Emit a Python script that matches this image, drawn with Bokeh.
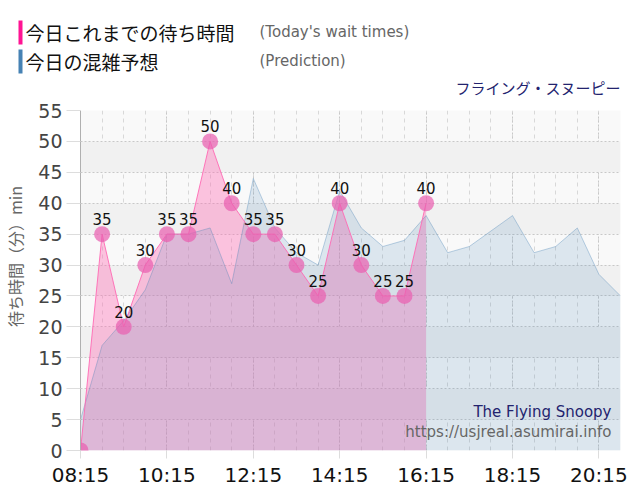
import pandas as pd
from bokeh.plotting import figure
from bokeh.layouts import column
from bokeh.models import (FixedTicker, SingleIntervalTicker, DatetimeTickFormatter,
                          Label, ColumnDataSource, Range1d)
from bokeh.embed import file_html
from bokeh.resources import INLINE
from bokeh.core.properties import value

# ---------------- data ----------------
actual_times = ["08:15", "08:45", "09:15", "09:45", "10:15", "10:45", "11:15", "11:45",
                "12:15", "12:45", "13:15", "13:45", "14:15", "14:45", "15:15", "15:45", "16:15"]
actual_waits = [0, 35, 20, 30, 35, 35, 50, 40, 35, 35, 30, 25, 40, 30, 25, 25, 40]

pred_times = ["08:15", "08:45", "09:15", "09:45", "10:15", "10:45", "11:15", "11:45",
              "12:15", "12:45", "13:15", "13:45", "14:15", "14:45", "15:15", "15:45",
              "16:15", "16:45", "17:15", "17:45", "18:15", "18:45", "19:15", "19:45",
              "20:15", "20:45"]
pred_waits = [5, 17, 21, 26, 35, 35, 36, 27, 44, 36, 32, 30, 42, 36, 33, 34,
              38, 32, 33, 35.5, 38, 32, 33, 36, 28.5, 25]

major_tick_labels = ["08:15", "10:15", "12:15", "14:15", "16:15", "18:15", "20:15"]
minor_tick_labels = pred_times
x_start, x_end = "08:15", "20:45"
y_start, y_end, y_step = 0, 55, 5

legend_actual = "今日これまでの待ち時間"
legend_actual_en = "(Today's wait times)"
legend_pred = "今日の混雑予想"
legend_pred_en = "(Prediction)"
title_text = "フライング・スヌーピー"
y_label = "待ち時間（分）min"
wm1 = "The Flying Snoopy"
wm2 = "https://usjreal.asumirai.info"


def ms(t):
    return pd.Timestamp("2024-01-01 " + t).value // 10**6


ax = [ms(t) for t in actual_times]
px = [ms(t) for t in pred_times]
src_a = ColumnDataSource(dict(x=ax, y=actual_waits,
                              lab=[str(v) if v > 0 else "" for v in actual_waits],
                              zero=[0] * len(ax)))
src_p = ColumnDataSource(dict(x=px, y=pred_waits, zero=[0] * len(px)))

W = 640
HEAD_H = 100
MAIN_H = 400
LEFT, RIGHT, TOP, BOTTOM = 80, 20, 10, 50
FRAME_BOTTOM = HEAD_H + MAIN_H - BOTTOM   # canvas y of the frame bottom (450)

# ---------------- header (legend + title) ----------------
head = figure(width=W, height=HEAD_H, output_backend="svg", toolbar_location=None,
              x_range=Range1d(0, W), y_range=Range1d(HEAD_H, 0),
              x_axis_location=None, y_axis_location=None,
              min_border=0, min_border_left=0, min_border_right=0,
              min_border_top=0, min_border_bottom=0)
head.frame_align = False
head.outline_line_color = None
head.grid.visible = False
head.background_fill_color = "white"
head.border_fill_color = "white"

head.quad(left=[18, 18], right=[22, 22], top=[20, 49], bottom=[44, 73],
          fill_color=["#ff1493", "#4682b4"], line_color=None)
head_src = ColumnDataSource(dict(
    x=[25, 25], y=[32, 61], t=[legend_actual, legend_pred]))
head.text(x="x", y="y", text="t", source=head_src, text_font=value("Noto Sans CJK JP"),
          text_font_size="19px", text_color="#111111", text_baseline="middle")
head_src2 = ColumnDataSource(dict(
    x=[259, 259], y=[31, 60], t=[legend_actual_en, legend_pred_en]))
head.text(x="x", y="y", text="t", source=head_src2, text_font=value("DejaVu Sans"),
          text_font_size="15px", text_color="#666666", text_baseline="middle")
head.text(x=[620], y=[87], text=[title_text], text_font=value("Noto Sans CJK JP"),
          text_font_size="15px", text_color="#23236e", text_align="right",
          text_baseline="middle")

# ---------------- main chart ----------------
p = figure(width=W, height=MAIN_H, x_axis_type="datetime", output_backend="svg",
           toolbar_location=None, min_border_left=LEFT, min_border_right=RIGHT,
           min_border_top=TOP, min_border_bottom=BOTTOM,
           x_range=Range1d(ms(x_start), ms(x_end)), y_range=Range1d(y_start, y_end))
p.frame_align = False
p.outline_line_color = None
p.background_fill_color = "#f9f9f9"
p.border_fill_color = "white"

LAT = value("DejaVu Sans")

p.xaxis.ticker = FixedTicker(ticks=[ms(t) for t in major_tick_labels],
                             minor_ticks=[ms(t) for t in minor_tick_labels])
fmt = "%H:%M"
p.xaxis.formatter = DatetimeTickFormatter(milliseconds=fmt, seconds=fmt, minsec=fmt,
                                          minutes=fmt, hourmin=fmt, hours=fmt, days=fmt,
                                          months=fmt, years=fmt)
p.xaxis.axis_line_color = None
p.xaxis.major_tick_line_color = "#dddddd"
p.xaxis.major_tick_out = 8
p.xaxis.major_tick_in = 0
p.xaxis.minor_tick_line_color = None
p.xaxis.major_label_text_font = "DejaVu Sans"
p.xaxis.major_label_text_font_size = "20px"
p.xaxis.major_label_text_color = "#111111"
p.xaxis.major_label_standoff = 4

p.yaxis.ticker = SingleIntervalTicker(interval=y_step, num_minor_ticks=0)
p.yaxis.axis_line_color = "#b0b0b0"
p.yaxis.major_tick_line_color = "#dddddd"
p.yaxis.major_tick_out = 14
p.yaxis.major_tick_in = 0
p.yaxis.minor_tick_line_color = None
p.yaxis.major_label_text_font = "DejaVu Sans"
p.yaxis.major_label_text_font_size = "19px"
p.yaxis.major_label_text_color = "#444444"
p.yaxis.major_label_standoff = 4
# leading ideographic spaces shift the centred label upward, as in the original
p.yaxis.axis_label = "\u3000\u3000\u3000" + y_label
p.yaxis.axis_label_text_font = "Noto Sans CJK JP"
p.yaxis.axis_label_text_font_size = "16px"
p.yaxis.axis_label_text_font_style = "normal"
p.yaxis.axis_label_text_color = "#666666"
p.yaxis.axis_label_standoff = 8

p.xgrid.grid_line_color = "#c8c8c8"
p.xgrid.grid_line_dash = "2 2"
p.xgrid.minor_grid_line_color = "#d8d8d8"
p.xgrid.minor_grid_line_dash = "4 4"
p.ygrid.grid_line_color = "#c8c8c8"
p.ygrid.grid_line_dash = "2 2"
p.ygrid.band_fill_color = "#f1f1f1"
p.ygrid.band_fill_alpha = 1.0

p.varea(x="x", y1="zero", y2="y", source=src_a, fill_color="#ff69b4", fill_alpha=0.38)
p.varea(x="x", y1="zero", y2="y", source=src_p, fill_color="#4682b4", fill_alpha=0.16)
p.line(x="x", y="y", source=src_p, line_color="#4682b4", line_alpha=0.35, line_width=1)
p.line(x="x", y="y", source=src_a, line_color="#ff69b4", line_alpha=0.9, line_width=1)
p.scatter(x="x", y="y", source=src_a, size=16, fill_color="#e95fb0", fill_alpha=0.72,
          line_color=None)
p.text(x="x", y="y", text="lab", source=src_a, text_font=LAT, text_font_size="15px",
       text_color="#111111", text_align="center", text_baseline="bottom", y_offset=-9)


def lab(cx, cy, text, **kw):
    p.add_layout(Label(x=cx - LEFT, y=FRAME_BOTTOM - cy, x_units="screen", y_units="screen",
                       text=text, **kw))


lab(611, 411, wm1, text_font="DejaVu Sans", text_font_size="15px",
    text_color="#23236e", text_align="right", text_baseline="middle")
lab(611, 431, wm2, text_font="DejaVu Sans", text_font_size="15px",
    text_color="#666666", text_align="right", text_baseline="middle")

layout = column(head, p, spacing=0)
open("out.html", "w").write(file_html(layout, INLINE))
